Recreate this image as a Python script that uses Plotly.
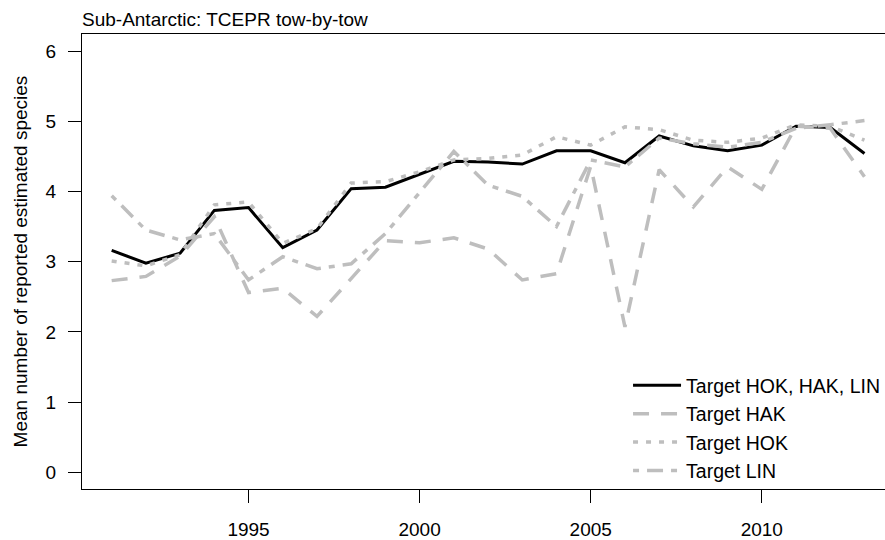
import plotly.graph_objects as go

# Fishing years covered by the TCEPR tow-by-tow records
years = list(range(1991, 2014))

# Mean number of reported estimated species per tow, by target group
target_all = [3.16, 2.98, 3.12, 3.73, 3.77, 3.20, 3.45, 4.04, 4.06, 4.25, 4.43, 4.42,
              4.39, 4.58, 4.58, 4.41, 4.79, 4.65, 4.58, 4.66, 4.93, 4.91, 4.54]
target_hak = [2.73, 2.79, 3.08, 3.64, 2.56, 2.62, 2.22, 2.76, 3.30, 3.27, 3.34, 3.18,
              2.74, 2.83, 4.36, 2.07, 4.31, 3.78, 4.35, 4.03, 4.93, 4.90, 4.21]
target_hok = [3.01, 2.94, 3.10, 3.81, 3.85, 3.26, 3.47, 4.12, 4.14, 4.28, 4.45, 4.47,
              4.52, 4.78, 4.66, 4.92, 4.88, 4.73, 4.70, 4.76, 4.95, 4.93, 4.73]
target_lin = [3.94, 3.45, 3.31, 3.40, 2.74, 3.07, 2.90, 2.97, 3.40, 3.98, 4.57, 4.09,
              3.93, 3.50, 4.45, 4.35, 4.76, 4.68, 4.63, 4.70, 4.90, 4.95, 5.01]

series_names = ["Target HOK, HAK, LIN", "Target HAK", "Target HOK", "Target LIN"]
x_ticks = [1995, 2000, 2005, 2010]
y_ticks = [0, 1, 2, 3, 4, 5, 6]

FONT = "Liberation Sans, Arial, Helvetica, sans-serif"
GREY = "#bebebe"

styles = [
    dict(color="black", width=3, dash="solid"),
    dict(color=GREY, width=3.5, dash="16px,12px"),
    dict(color=GREY, width=3.5, dash="5px,8px"),
    dict(color=GREY, width=3.5, dash="6px,8px,16px,8px"),
]

fig = go.Figure()
for name, vals, st in zip(series_names, [target_all, target_hak, target_hok, target_lin], styles):
    fig.add_trace(go.Scatter(x=years, y=vals, mode="lines", name=name, line=st))

fig.update_layout(
    width=885,
    height=540,
    margin=dict(l=82, r=0, t=34, b=51, autoexpand=False),
    paper_bgcolor="white",
    plot_bgcolor="white",
    font=dict(family=FONT, size=19, color="black"),
    title=dict(
        text="Sub-Antarctic: TCEPR tow-by-tow",
        x=82 / 885, xref="container", xanchor="left",
        y=1 - 19 / 540, yref="container", yanchor="middle",
        font=dict(family=FONT, size=19, color="black"),
    ),
    showlegend=True,
    legend=dict(
        x=0.680, y=0.27, xanchor="left", yanchor="top",
        bgcolor="rgba(0,0,0,0)", borderwidth=0,
        font=dict(family=FONT, size=19.5, color="black"),
        tracegroupgap=0, itemwidth=48,
    ),
    xaxis=dict(
        range=[1990.133, 2013.60],
        tickvals=x_ticks,
        ticktext=[str(v) for v in x_ticks],
        ticks="outside", ticklen=13, tickwidth=1, tickcolor="black",
        ticklabelstandoff=10,
        showline=True, linecolor="black", linewidth=1, mirror=True,
        showgrid=False, zeroline=False,
    ),
    yaxis=dict(
        range=[-0.238, 6.243],
        tickvals=y_ticks,
        ticks="outside", ticklen=13, tickwidth=1, tickcolor="black",
        ticklabelstandoff=8,
        showline=True, linecolor="black", linewidth=1, mirror=False,
        showgrid=False, zeroline=False,
        title=dict(text="Mean number of reported estimated species", standoff=12,
                   font=dict(family=FONT, size=19, color="black")),
    ),
)

fig.write_html("out.html")
